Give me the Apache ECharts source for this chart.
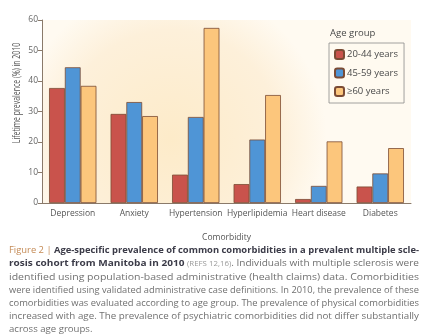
<!DOCTYPE html>
<html>
<head>
<meta charset="utf-8">
<script src="https://cdn.jsdelivr.net/npm/echarts@6/dist/echarts.min.js"></script>
<style>
  html, body { margin: 0; padding: 0; background: #fff; }
  #wrap { position: relative; width: 425px; height: 334px; overflow: hidden; }
  #chart { position: absolute; left: 0; top: 0; width: 425px; height: 334px; }
  #caption { position: absolute; left: 9px; top: 243px; width: 410px;
    font-family: "Open Sans", "Noto Sans", sans-serif; font-size: 9.6px; line-height: 13px; color: #707070; }
  #caption .ln { white-space: nowrap; transform-origin: 0 50%; display: block; width: max-content; }
  #caption .fig { color: #c48a55; }
  #caption b { color: #3b3b48; font-weight: 700; }
  #caption .refs { color: #9a9a9a; font-size: 7.5px; }
</style>
</head>
<body>
<div id="wrap">
  <div id="chart"></div>
  <div id="caption">
    <span class="ln fit"><span class="fig">Figure 2 | </span><b>Age-specific prevalence of common comorbidities in a prevalent multiple scle-</b></span>
    <span class="ln fit"><b>rosis cohort from Manitoba in 2010</b> <span class="refs">(REFS 12,16)</span>. Individuals with multiple sclerosis were</span>
    <span class="ln fit">identified using population-based administrative (health claims) data. Comorbidities</span>
    <span class="ln fit">were identified using validated administrative case definitions. In 2010, the prevalence of these</span>
    <span class="ln fit">comorbidities was evaluated according to age group. The prevalence of physical comorbidities</span>
    <span class="ln fit">increased with age. The prevalence of psychiatric comorbidities did not differ substantially</span>
    <span class="ln">across age groups.</span>
  </div>
</div>
<script>
// Comorbidity categories and prevalence (%) by age group
const categories = ['Depression', 'Anxiety', 'Hypertension', 'Hyperlipidemia', 'Heart disease', 'Diabetes'];
const ageGroups = ['20-44 years', '45-59 years', '\u226560 years'];
const age20to44 = [37.7, 29.2, 9.3, 6.2, 1.3, 5.4];
const age45to59 = [44.5, 33.1, 28.2, 20.8, 5.6, 9.7];
const age60plus = [38.4, 28.5, 57.4, 35.4, 20.2, 18.0];
const yTicks = [0, 10, 20, 30, 40, 50, 60];

const colors = ['#c9534c', '#4f95d6', '#fcc67c'];
const fontFamily = '"Open Sans", "Noto Sans", sans-serif';

const chart = echarts.init(document.getElementById('chart'));

function barSeries(name, data, color) {
  return {
    name: name,
    type: 'bar',
    data: data,
    barGap: '0%',
    barCategoryGap: '23%',
    itemStyle: { color: color, borderColor: '#7b4b34', borderWidth: 0.8 },
    emphasis: { disabled: true }
  };
}

chart.setOption({
  animation: false,
  textStyle: { fontFamily: fontFamily },
  grid: {
    left: 42, right: 14, top: 20, bottom: 131,
    show: true, borderWidth: 0,
    backgroundColor: new echarts.graphic.RadialGradient(0.35, 0.65, 0.85, [
      { offset: 0, color: '#fdebc9' },
      { offset: 0.7, color: '#fdf0da' },
      { offset: 1, color: '#fffaf1' }
    ])
  },
  legend: {
    data: ageGroups,
    orient: 'vertical',
    left: 329, top: 43,
    padding: [6, 6, 6, 5],
    itemWidth: 9, itemHeight: 9, itemGap: 7.5,
    borderColor: '#8a8a8a', borderWidth: 0.8,
    backgroundColor: 'rgba(255,250,240,0.4)',
    textStyle: { fontSize: 9.5, color: '#4a4a4a', fontFamily: fontFamily, padding: [0, 0, 0, -2] },
    selectedMode: false
  },
  graphic: [{
    type: 'text', left: 330, top: 28,
    style: { text: 'Age group', fontSize: 9.5, fill: '#4a4a4a', fontFamily: fontFamily }
  }, {
    // condensed, rotated value-axis title
    type: 'text', x: 17, y: 93, rotation: Math.PI / 2, scaleX: 0.63,
    style: { text: 'Lifetime prevalence (%) in 2010', fontSize: 11, fill: '#555',
      fontFamily: fontFamily, align: 'center', verticalAlign: 'middle' }
  }],
  xAxis: {
    type: 'category',
    data: categories,
    name: 'Comorbidity',
    nameLocation: 'middle',
    nameGap: 30,
    nameTextStyle: { fontSize: 8.5, color: '#555' },
    axisLine: { lineStyle: { color: '#8a7a6a', width: 1 } },
    axisTick: { show: false },
    axisLabel: { interval: 0, fontSize: 8.5, color: '#555', margin: 6 }
  },
  yAxis: {
    type: 'value',
    min: yTicks[0], max: yTicks[yTicks.length - 1], interval: 10,
    axisLine: { show: true, lineStyle: { color: '#8a7a6a', width: 1 } },
    axisTick: { show: true, length: 4, lineStyle: { color: '#8a7a6a' } },
    axisLabel: { fontSize: 8.5, color: '#666', margin: 4 },
    splitLine: { show: false }
  },
  series: [
    barSeries(ageGroups[0], age20to44, colors[0]),
    barSeries(ageGroups[1], age45to59, colors[1]),
    barSeries(ageGroups[2], age60plus, colors[2])
  ]
});

// Stretch each full caption line to the column width
document.querySelectorAll('#caption .fit').forEach(function (el) {
  const w = el.getBoundingClientRect().width;
  el.style.transform = 'scaleX(' + (410 / w) + ')';
});
</script>
</body>
</html>
